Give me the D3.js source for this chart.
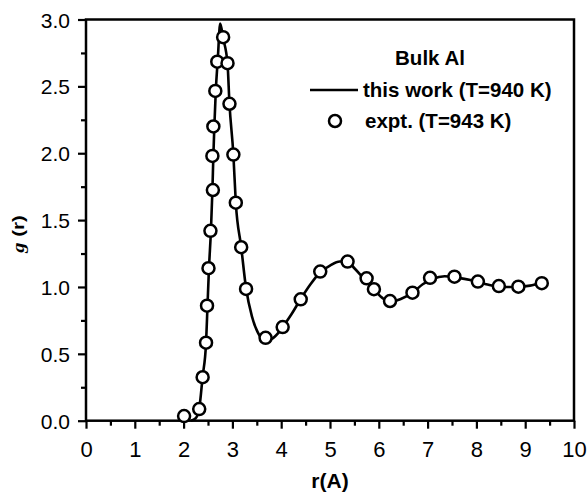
<!DOCTYPE html>
<html><head><meta charset="utf-8">
<script src="https://cdn.jsdelivr.net/npm/d3@7"></script>
<style>body{margin:0;background:#fff}svg{display:block}text{font-family:"Liberation Sans",Arial,sans-serif;fill:#000}</style>
</head><body><svg id="c" width="587" height="494"></svg>
<script>
// simulation line (this work, T=940 K)
const simR = [2.15,2.25,2.32,2.39,2.46,2.49,2.52,2.56,2.59,2.61,2.63,2.66,2.70,2.75,2.81,2.90,2.94,3.02,3.07,3.18,3.28,3.40,3.52,3.65,3.80,3.95,4.05,4.2,4.4,4.6,4.8,5.0,5.2,5.36,5.5,5.7,5.9,6.1,6.25,6.45,6.7,6.9,7.1,7.35,7.6,7.9,8.2,8.5,8.8,9.1,9.35,9.45];
const simG = [0.0,0.02,0.09,0.33,0.58,0.86,1.14,1.42,1.72,1.98,2.20,2.47,2.70,2.97,2.86,2.67,2.37,1.99,1.63,1.30,0.99,0.78,0.66,0.60,0.61,0.66,0.71,0.79,0.91,1.02,1.11,1.16,1.19,1.19,1.14,1.06,0.98,0.91,0.89,0.91,0.96,1.02,1.06,1.08,1.07,1.05,1.02,1.00,1.00,1.01,1.03,1.02];
// experiment (T=943 K)
const expR = [2.01,2.32,2.39,2.46,2.48,2.51,2.55,2.60,2.59,2.61,2.65,2.69,2.81,2.90,2.94,3.02,3.07,3.18,3.28,3.68,4.03,4.40,4.80,5.36,5.75,5.90,6.23,6.69,7.05,7.55,8.03,8.46,8.86,9.34];
const expG = [0.035,0.087,0.325,0.583,0.86,1.14,1.42,1.725,1.98,2.20,2.466,2.685,2.868,2.673,2.37,1.99,1.63,1.297,0.985,0.62,0.70,0.908,1.115,1.19,1.065,0.983,0.895,0.957,1.068,1.077,1.04,1.007,1.002,1.028];
const xTicks = [0,1,2,3,4,5,6,7,8,9,10];
const yTicks = [0.0,0.5,1.0,1.5,2.0,2.5,3.0];
const legendTitle = "Bulk Al";
const legendLine = "this work (T=940 K)";
const legendDots = "expt. (T=943 K)";

const L=86,R=574,T=19.5,B=420.7;
const svg=d3.select("#c");
const x=d3.scaleLinear().domain([0,10]).range([L,R]);
const y=d3.scaleLinear().domain([0,3]).range([B,T]);

// frame
svg.append("rect").attr("x",L).attr("y",T).attr("width",R-L).attr("height",B-T)
  .attr("fill","none").attr("stroke","#000").attr("stroke-width",2.5);

// x axis
const xa=svg.append("g").attr("transform",`translate(0,${B})`)
  .call(d3.axisBottom(x).tickValues(d3.range(0,10.01,0.5)).tickSize(0).tickFormat(""));
xa.select(".domain").remove();
xa.selectAll(".tick line").attr("y2",d=>Number.isInteger(d)?8:5).attr("stroke","#000").attr("stroke-width",2.2);
const xl=svg.append("g").attr("transform",`translate(0,${B})`)
  .call(d3.axisBottom(x).tickValues(xTicks).tickSize(0).tickPadding(0).tickFormat(d3.format("d")));
xl.select(".domain").remove();
xl.selectAll("text").attr("dy",null).attr("y",36).attr("font-size",22).attr("font-family","Liberation Sans, Arial, sans-serif").attr("fill","#000");

// y axis
const ya=svg.append("g").attr("transform",`translate(${L},0)`)
  .call(d3.axisLeft(y).tickValues(d3.range(0,3.001,0.25)).tickSize(0).tickFormat(""));
ya.select(".domain").remove();
ya.selectAll(".tick line").attr("x2",(d,i)=>i%2===0?-8:-5).attr("stroke","#000").attr("stroke-width",2.2);
const yl=svg.append("g").attr("transform",`translate(${L},0)`)
  .call(d3.axisLeft(y).tickValues(yTicks).tickSize(0).tickPadding(0).tickFormat(d3.format(".1f")));
yl.select(".domain").remove();
yl.selectAll("text").attr("x",-16).attr("dy","0.36em").attr("font-size",21).attr("font-family","Liberation Sans, Arial, sans-serif").attr("fill","#000");

// axis titles
svg.append("text").attr("x",x(5)).attr("y",488).attr("text-anchor","middle")
  .attr("font-size",21).attr("font-weight","bold").text("r(A)");
const yt=svg.append("text").attr("transform",`translate(24,234) rotate(-90) scale(1.2,1)`)
  .attr("text-anchor","middle").attr("font-size",17).attr("font-weight","bold");
yt.append("tspan").attr("font-style","italic").attr("font-family","Liberation Serif, serif").text("g");
yt.append("tspan").text(" (r)");

// line
const line=d3.line().x((d,i)=>x(simR[i])).y((d,i)=>y(simG[i])).curve(d3.curveMonotoneX);
svg.append("path").attr("d",line(simR)).attr("fill","none").attr("stroke","#000").attr("stroke-width",2.6);

// points
svg.append("g").selectAll("circle").data(expR).join("circle")
  .attr("cx",(d,i)=>x(expR[i])).attr("cy",(d,i)=>y(expG[i])).attr("r",6)
  .attr("fill","#fff").attr("stroke","#000").attr("stroke-width",2.5);

// legend
svg.append("text").attr("x",430).attr("y",65).attr("text-anchor","middle")
  .attr("font-size",20.5).attr("font-weight","bold").text(legendTitle);
svg.append("line").attr("x1",310).attr("x2",358).attr("y1",90).attr("y2",90).attr("stroke","#000").attr("stroke-width",2.6);
svg.append("text").attr("x",363).attr("y",97).attr("font-size",20.5).attr("font-weight","bold").text(legendLine);
svg.append("circle").attr("cx",335).attr("cy",121).attr("r",6).attr("fill","#fff").attr("stroke","#000").attr("stroke-width",2.5);
svg.append("text").attr("x",365).attr("y",128).attr("font-size",20.5).attr("font-weight","bold").text(legendDots);
</script></body></html>
